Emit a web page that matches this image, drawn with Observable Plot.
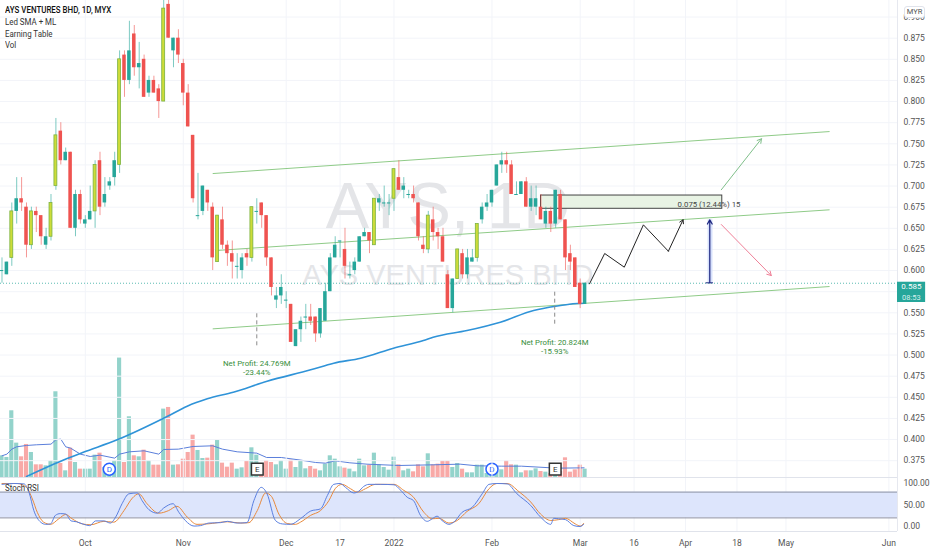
<!DOCTYPE html>
<html><head><meta charset="utf-8">
<script src="https://cdn.jsdelivr.net/npm/d3@7"></script>
<script src="https://cdn.jsdelivr.net/npm/@observablehq/plot@0.6"></script>
<style>
html,body{margin:0;padding:0;background:#fff}
#root{position:relative;width:932px;height:550px;overflow:hidden;font-family:Roboto,sans-serif}
#root svg{position:absolute;left:0;background:transparent;font-family:Roboto,sans-serif}
.lg{position:absolute;left:5px;font-size:8.6px;line-height:11.3px;color:#222;transform:scaleX(.92);transform-origin:left center;white-space:nowrap}
#myr{position:absolute;left:904px;top:6px;width:19px;height:10px;line-height:10px;border:1px solid #e0e3eb;border-radius:3px;background:#fff;font-size:7.5px;color:#555;text-align:center}
</style></head><body><div id="root"></div>
<script>
const opens=[.600,.595,.615,.670,.685,.675,.630,.670,.665,.630,.640,.700,.765,.730,.740,.650,.690,.655,.660,.670,.730,.680,.700,.710,.725,.855,.825,.880,.840,.850,.810,.825,.815,.800,.915,.860,.875,.845,.810,.760,.665,.670,.695,.675,.610,.660,.630,.620,.605,.600,.620,.615,.670,.680,.665,.615,.565,.570,.565,.560,.510,.530,.545,.545,.545,.525,.540,.575,.615,.635,.625,.595,.600,.610,.640,.645,.630,.680,.680,.680,.685,.710,.695,.690,.690,.680,.630,.625,.660,.645,.640,.595,.555,.590,.620,.595,.610,.615,.660,.675,.680,.700,.725,.730,.725,.690,.690,.705,.675,.675,.675,.655,.670,.655,.690,.660,.620,.615,.585,.560];
const closes=[.600,.610,.670,.685,.680,.630,.670,.665,.640,.640,.680,.760,.730,.740,.650,.690,.660,.660,.670,.725,.675,.690,.705,.730,.850,.825,.860,.840,.845,.805,.825,.810,.800,.910,.875,.875,.855,.810,.770,.685,.665,.700,.680,.615,.665,.630,.620,.610,.605,.615,.615,.675,.670,.665,.615,.580,.570,.580,.565,.515,.530,.540,.545,.540,.525,.555,.575,.615,.630,.635,.605,.595,.610,.640,.645,.635,.685,.685,.680,.680,.720,.695,.700,.690,.685,.640,.625,.665,.645,.640,.610,.555,.590,.625,.595,.615,.615,.655,.675,.680,.695,.725,.730,.725,.690,.690,.705,.675,.685,.685,.660,.670,.655,.695,.660,.615,.610,.580,.560,.585];
const highs=[.615,.610,.680,.710,.710,.680,.675,.675,.665,.650,.690,.780,.775,.745,.740,.695,.695,.665,.700,.730,.740,.710,.710,.740,.860,.860,.895,.890,.870,.855,.830,.830,.820,.925,.920,.875,.885,.850,.820,.760,.715,.700,.695,.680,.665,.675,.635,.635,.620,.620,.625,.675,.685,.680,.665,.615,.580,.595,.575,.560,.530,.545,.560,.560,.545,.555,.585,.620,.640,.635,.650,.610,.615,.640,.650,.645,.685,.690,.700,.690,.720,.730,.710,.695,.700,.680,.640,.670,.675,.650,.650,.600,.590,.625,.625,.625,.625,.655,.680,.690,.695,.725,.740,.740,.730,.705,.705,.710,.700,.700,.690,.675,.675,.695,.695,.660,.630,.615,.590,.585];
const lows=[.585,.595,.605,.655,.670,.615,.625,.645,.630,.625,.635,.695,.725,.730,.650,.640,.655,.650,.660,.650,.665,.675,.695,.700,.715,.805,.820,.830,.815,.805,.805,.810,.780,.800,.875,.840,.845,.795,.770,.680,.660,.665,.670,.600,.610,.625,.605,.590,.590,.590,.605,.610,.655,.650,.605,.570,.555,.560,.555,.515,.510,.515,.530,.535,.515,.520,.540,.575,.615,.615,.590,.590,.595,.610,.640,.620,.630,.670,.675,.665,.670,.695,.685,.685,.680,.635,.620,.620,.635,.625,.610,.555,.550,.590,.590,.590,.610,.610,.655,.670,.675,.700,.715,.715,.690,.690,.690,.675,.670,.665,.660,.650,.645,.650,.660,.600,.600,.580,.555,.560];
const limeBars=[2,6,10,11,19,24,33,44,51,76,80,87,93,97];
const volumes=[.65,.60,2.00,1.03,.62,.99,.75,.38,.38,.35,.50,2.57,.42,.20,.88,.45,.25,.25,.25,.67,.73,.30,.30,.50,3.58,.45,1.82,.65,.62,.82,.50,.37,.37,2.05,2.10,.37,.38,.55,.75,1.27,.81,.57,.58,.97,1.11,.43,.31,.43,.25,.29,.48,.89,.67,.35,.51,.45,.38,.50,.25,.52,.30,.50,.26,.33,.25,.20,.40,.65,.55,.32,.28,.25,.17,.55,.35,.37,.73,.38,.30,.22,.61,.38,.20,.25,.17,.38,.32,.71,.38,.40,.49,.49,.30,.42,.25,.14,.14,.37,.37,.12,.15,.20,.23,.50,.38,.37,.14,.20,.20,.26,.18,.16,.12,.15,.18,.59,.16,.23,.37,.25];
const volMaBars=[0,1,2,3,5,7,10,11,12,13,14,16,18,20,23,24,26,29,32,33,36,39,43,45,48,52,54,57,61,64,66,68,71,74.5,81,88,93.5,97,102,106,113.3,118.8];
const volMa=[.65,.70,.85,.92,.96,.98,1.00,1.13,1.15,.92,.88,.70,.63,.67,.58,.70,.77,.80,.70,.84,.85,.93,.95,.85,.77,.73,.60,.60,.52,.45,.43,.50,.44,.40,.36,.38,.40,.35,.34,.34,.28,.29];
const smaBars=[5,13.3,16.6,23.5,33.7,37.8,41.9,47.2,54.1,63,67.7,73.2,79.9,86,88,94.9,101.7,108.5,113,117.4,118.9];
const sma=[.3563,.3776,.385,.3997,.4273,.4395,.4482,.456,.469,.4825,.4904,.4963,.5081,.5172,.5211,.529,.5389,.5527,.5578,.561,.5614];
const kBars=[0,2.4,4.5,5.5,6.5,7.9,8.9,9.9,10.9,11.9,13,14.1,15.2,16.7,17.9,19.1,20.8,22.1,23.2,24.5,25.9,27.6,28.6,30,31.7,33,34.9,36.1,37.4,39.2,40.5,42.2,44.6,46,48,50,51.4,52.9,54.1,55.8,57.2,58.9,60.9,63,65,66.4,67.7,69,70.1,71.8,72.8,73.8,74.9,77.2,80,81.3,82.7,84,85.4,86.8,87.8,88.8,89.8,91.2,92.2,93.9,96,98,99.4,101,103.1,105.1,107.9,109.9,112,112.6,113.6,115,116.7,118,118.7];
const kVals=[98,100,99,80,37,10,5,6,26,30,29,13,11,5,2,13,13,8,22,53,76,78,60,39,31,43,53,33,14,1,2,8,9,12,8,9,60,91,76,14,6,5,18,36,41,72,98,100,91,78,82,93,98,98,97,85,68,60,26,12,18,24,14,5,10,33,45,76,98,100,99,76,49,22,5,19,18,16,2,0,5];
const dBars=[0,3.1,5,6.2,7.2,8.5,9.9,11.6,13,14.3,16.4,18.1,20.8,22.8,24.9,26.6,27.9,29.6,32,34,35.7,37.8,39.8,41.9,46,48.7,50.4,52.1,53.8,55,56.5,58.2,59.9,60.9,63,65,66.7,68,69.4,71.1,72.5,74.2,76.2,80,82,84,86.1,87.8,89.2,91.2,92.9,94.9,97.3,99.4,101,103.1,105.5,107.9,109.9,112,113.6,115,117,118,118.7];
const dVals=[100,100,91,64,33,10,5,18,28,18,6,4,12,10,37,66,76,53,31,37,47,22,5,6,11,8,9,37,78,70,29,7,5,10,26,37,60,88,98,88,80,88,98,98,84,68,33,18,19,8,14,35,53,88,100,100,81,57,29,14,16,19,6,1,7];
const channelBars=[[43,168.9],[43.6,168.9],[43,168.9]];
const channelPrices=[[.7148,.7645],[.6237,.6719],[.531,.5811]];
const zigBars=[119.9,123,127,130.9,136];
const zigPrices=[.5843,.6202,.604,.6541,.6229];
const priceTicks=d3.range(15,37).map(k=>k*.025);
const priceLabels=priceTicks.filter(t=>Math.abs(t-.575)>.001);
const timeBars=[17,37,58,69,80,100,118,129,139.5,150,160,181];
const timeLabels=["Oct","Nov","Dec","17","2022","Feb","Mar","16","Apr","18","May","Jun"];
const earnings=[{i:52,top:.5488,bot:.5078,t1:"Net Profit: 24.769M",t2:"-23.44%",p1:.4896,p2:.479},{i:112.8,top:.5744,bot:.533,t1:"Net Profit: 20.824M",t2:"-15.93%",p1:.5152,p2:.5046}];
const dividends=[21.9,100];
const earningMarks=[52.1,112.9];

const bars=opens.map((o,i)=>({i,o,c:closes[i],h:highs[i],l:lows[i],v:volumes[i],up:closes[i]>=o,lime:limeBars.includes(i)}));
const TEAL="#26a69a",RED="#ef5350",GREEN="#8fcb88";
const xDomain=[-.306,182.76];
const root=document.getElementById("root");
const W=932,MR=35;

/* volume pane */
const vol=Plot.plot({width:W,height:477,marginLeft:0,marginRight:MR,marginTop:0,marginBottom:0,
  x:{domain:xDomain,axis:null},y:{domain:[0,14.3],axis:null},
  marks:[
    Plot.rectY(bars,{x1:d=>d.i-.42,x2:d=>d.i+.42,y1:0,y2:"v",fill:d=>d.up?"#93d3cb":"#f8a9a7"}),
    Plot.line(volMa.map((v,k)=>({i:volMaBars[k],v})),{x:"i",y:"v",stroke:"#5b7fdb",strokeWidth:1}),
    Plot.dot(dividends,{x:d=>d,y:.25,r:6,fill:"#fff",stroke:"#2962ff",strokeWidth:1.5}),
    Plot.text(dividends,{x:d=>d,y:.25,text:()=>"D",fill:"#2962ff",fontSize:8}),
    Plot.dot(earningMarks,{x:d=>d,y:.25,r:6.6,symbol:"square",fill:"#fff",stroke:"#333",strokeWidth:1.5}),
    Plot.text(earningMarks,{x:d=>d,y:.25,text:()=>"E",fill:"#333",fontSize:8})
  ]});
vol.style.top="0";root.appendChild(vol);

/* price pane */
const channels=channelBars.map((b,k)=>({x1:b[0],x2:b[1],y1:channelPrices[k][0],y2:channelPrices[k][1]}));
const last=closes[closes.length-1];
const main=Plot.plot({width:W,height:477,marginLeft:0,marginRight:MR,marginTop:0,marginBottom:0,
  x:{domain:xDomain,axis:null},y:{domain:[.3551,.9196]},
  marks:[
    Plot.ruleY(priceTicks,{stroke:"#f2f4f9",strokeWidth:1}),
    Plot.ruleX(timeBars,{stroke:"#f2f4f9",strokeWidth:1}),
    Plot.text(["AYS, 1D"],{x:91,y:.675,text:d=>d,fontSize:65,fontFamily:"Liberation Sans",fill:"#e4e5e8"}),
    Plot.text(["AYS VENTURES BHD"],{x:91,y:.594,text:d=>d,fontSize:29,fontFamily:"Liberation Sans",fill:"#e4e5e8"}),
    Plot.ruleY([last],{stroke:TEAL,strokeOpacity:.75,strokeWidth:1,strokeDasharray:"1,2"}),
    Plot.rect([0],{x1:110,x2:147,y1:.6731,y2:.6888,fill:"#e8f3e4",stroke:"#444",strokeWidth:1}),
    Plot.rect([0],{x1:144.1,x2:145.1,y1:.5855,y2:.660,fill:"#d6e0fb"}),
    Plot.arrow([0],{x1:144.45,x2:144.45,y1:.5855,y2:.660,stroke:"#1a237e",strokeWidth:1.2,headLength:6}),
    Plot.ruleY([.5855],{x1:143.7,x2:145.2,stroke:"#1a237e"}),
    Plot.link(channels,{x1:"x1",x2:"x2",y1:"y1",y2:"y2",stroke:GREEN,strokeWidth:1}),
    Plot.line(sma.map((v,k)=>({i:smaBars[k],v})),{x:"i",y:"v",stroke:"#2f93d8",strokeWidth:1.6,curve:"monotone-x"}),
    Plot.ruleX(earnings,{x:"i",y1:"top",y2:"bot",stroke:"#8a8a8a",strokeDasharray:"4,3",strokeWidth:1}),
    Plot.text(earnings,{x:"i",y:"p1",text:"t1",fill:"#388e3c",fontSize:7.8}),
    Plot.text(earnings,{x:"i",y:"p2",text:"t2",fill:"#388e3c",fontSize:7.8}),
    Plot.ruleX(bars,{x:"i",y1:"l",y2:"h",stroke:d=>d.up?TEAL:RED,strokeOpacity:.6,strokeWidth:1}),
    Plot.rect(bars.filter(d=>d.o!==d.c&&!d.lime),{x1:d=>d.i-.36,x2:d=>d.i+.36,y1:"o",y2:"c",fill:d=>d.up?TEAL:RED}),
    Plot.rect(bars.filter(d=>d.lime),{x1:d=>d.i-.3,x2:d=>d.i+.3,y1:"o",y2:"c",fill:"#cddc39",stroke:"#7cb342",strokeWidth:.8}),
    Plot.ruleY(bars.filter(d=>d.o===d.c),{y:"c",x1:d=>d.i-.36,x2:d=>d.i+.36,stroke:TEAL,strokeWidth:1}),
    Plot.line(zigPrices.map((v,k)=>({i:zigBars[k],v})),{x:"i",y:"v",stroke:"#222",strokeWidth:1}),
    Plot.arrow([0],{x1:136,y1:.6229,x2:139,y2:.6601,stroke:"#222",strokeWidth:1,headLength:6}),
    Plot.arrow([0],{x1:146.8,y1:.6956,x2:155,y2:.756,stroke:"#7fbf8a",strokeWidth:1,headLength:7}),
    Plot.arrow([0],{x1:146.8,y1:.6545,x2:157,y2:.5941,stroke:"#ef7f97",strokeWidth:1,headLength:7}),
    Plot.text(["0.075 (12.44%) 15"],{x:144.3,y:.6786,text:d=>d,fill:"#444",fontSize:7.8}),
    Plot.axisY({anchor:"right",ticks:priceLabels,tickSize:0,tickPadding:6,tickFormat:d3.format(".3f"),label:null,color:"#555",fontSize:8.5}),
    Plot.ruleX([182.76],{stroke:"#e6e8ef",strokeWidth:1}),
    Plot.rect([0],{x1:182.76,x2:188.5,y1:.5622,y2:.5862,fill:"#26a69a"}),
    Plot.text(["0.585"],{x:185.6,y:.5808,text:d=>d,fill:"#fff",fontSize:8}),
    Plot.text(["08:53"],{x:185.6,y:.5685,text:d=>d,fill:"#d8f0ed",fontSize:7.5})
  ]});
main.style.top="0";root.appendChild(main);

/* stochastic RSI pane with the time axis */
const stoch=Plot.plot({width:W,height:73,marginLeft:0,marginRight:MR,marginTop:0,marginBottom:19,
  x:{domain:xDomain,axis:null},y:{domain:[-11.63,113.95]},
  marks:[
    Plot.ruleX(timeBars,{stroke:"#f2f4f9",strokeWidth:1}),
    Plot.rect([0],{x1:xDomain[0],x2:xDomain[1],y1:20,y2:80,fill:"#dde5fc"}),
    Plot.ruleY([20,80],{stroke:"#8e92a3",strokeWidth:1}),
    Plot.ruleY([113.9],{stroke:"#e0e3eb",strokeWidth:1}),
    Plot.ruleY([-11.6],{stroke:"#e0e3eb",strokeWidth:1}),
    Plot.line(dVals.map((v,k)=>({i:dBars[k],v})),{x:"i",y:"v",stroke:"#e8893c",strokeWidth:1,curve:"monotone-x"}),
    Plot.line(kVals.map((v,k)=>({i:kBars[k],v})),{x:"i",y:"v",stroke:"#5a7fe0",strokeWidth:1,curve:"monotone-x"}),
    Plot.axisY({anchor:"right",ticks:[0,50,100],tickSize:0,tickPadding:6,tickFormat:d3.format(".2f"),label:null,color:"#555",fontSize:8.5}),
    Plot.axisX({ticks:timeBars,tickFormat:d=>timeLabels[timeBars.indexOf(d)],tickSize:0,tickPadding:8,label:null,color:"#555",fontSize:8.5}),
    Plot.ruleX([182.76],{stroke:"#e6e8ef",strokeWidth:1})
  ]});
stoch.style.top="477px";root.appendChild(stoch);

/* pane legends */
[["AYS VENTURES BHD, 1D, MYX",5,"#111",500],["Led SMA + ML",17,"#333",400],["Earning Table",28.5,"#333",400],["Vol",40,"#333",400],["Stoch RSI",482.5,"#333",400]].forEach(([t,top,c,w])=>{
  const e=document.createElement("div");e.className="lg";e.textContent=t;e.style.top=top+"px";e.style.color=c;e.style.fontWeight=w;root.appendChild(e);
});
const m=document.createElement("div");m.id="myr";m.textContent="MYR";root.appendChild(m);
</script></body></html>
